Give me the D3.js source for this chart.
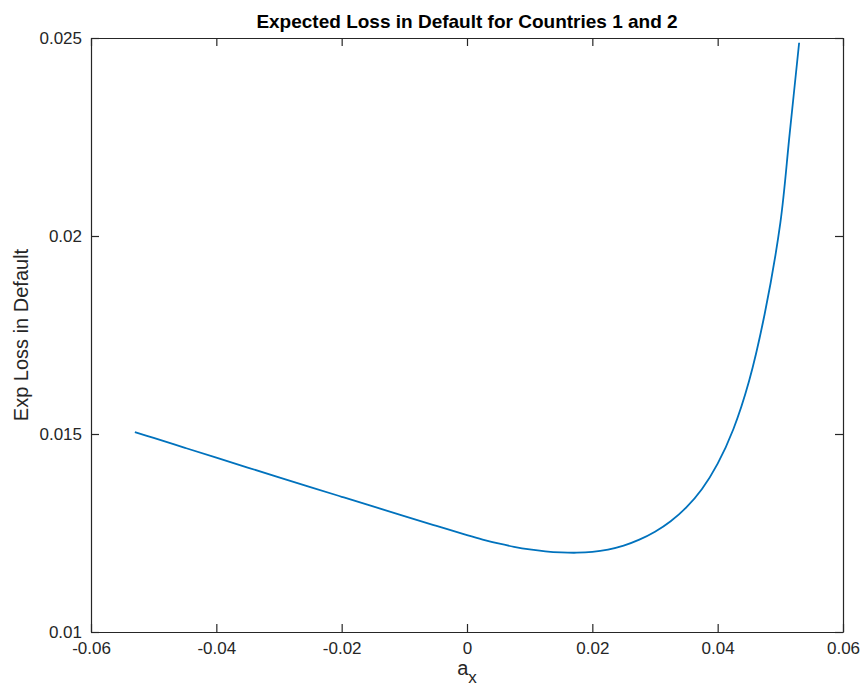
<!DOCTYPE html>
<html>
<head>
<meta charset="utf-8">
<script src="https://cdn.jsdelivr.net/npm/d3@7"></script>
<style>
  html, body { margin: 0; padding: 0; background: #fff; }
  svg { display: block; font-family: "Liberation Sans", Arial, Helvetica, sans-serif; }
</style>
</head>
<body>
<svg id="chart" width="865" height="688"></svg>
<script>
// Expected loss in default as a function of a_x
const axValues = [-0.053, -0.05, -0.045, -0.04, -0.035, -0.03, -0.025, -0.02, -0.015, -0.01, -0.005,
  0, 0.0025, 0.005, 0.0075, 0.01, 0.0125, 0.015, 0.0175, 0.02, 0.0225, 0.025, 0.0275, 0.03,
  0.0325, 0.035, 0.0375, 0.04, 0.0425, 0.045, 0.0475, 0.05, 0.0515, 0.053];
const lossValues = [0.01505, 0.01490, 0.014650, 0.014401, 0.014153, 0.013906, 0.013660, 0.013415,
  0.013171, 0.012928, 0.012686, 0.012445, 0.012333, 0.012235, 0.012152, 0.012086, 0.012038,
  0.012010, 0.012002, 0.012022, 0.012081, 0.012181, 0.012331, 0.012531, 0.012796, 0.013146,
  0.013611, 0.014251, 0.015121, 0.016331, 0.018031, 0.020331, 0.02260, 0.02488];

const xTicks = [-0.06, -0.04, -0.02, 0, 0.02, 0.04, 0.06];
const xTickLabels = ["-0.06", "-0.04", "-0.02", "0", "0.02", "0.04", "0.06"];
const yTicks = [0.01, 0.015, 0.02, 0.025];
const yTickLabels = ["0.01", "0.015", "0.02", "0.025"];

const titleText = "Expected Loss in Default for Countries 1 and 2";
const yLabelText = "Exp Loss in Default";

const margin = { left: 91, top: 38, right: 865 - 843, bottom: 688 - 632 };
const width = 865 - margin.left - margin.right;
const height = 688 - margin.top - margin.bottom;

const axisColor = "#262626";
const tickLen = 8;

const svg = d3.select("#chart");
const g = svg.append("g").attr("transform", `translate(${margin.left},${margin.top})`);

const x = d3.scaleLinear().domain([-0.06, 0.06]).range([0, width]);
const y = d3.scaleLinear().domain([0.01, 0.025]).range([height, 0]);

// Data line
const data = axValues.map((v, i) => ({ x: v, y: lossValues[i] }));
const line = d3.line().x(d => x(d.x)).y(d => y(d.y)).curve(d3.curveCatmullRom.alpha(0.5));
g.append("path")
  .datum(data)
  .attr("fill", "none")
  .attr("stroke", "#0072BD")
  .attr("stroke-width", 1.8)
  .attr("d", line);

// Axes with inward ticks on all four sides
function styleAxis(sel) {
  sel.select(".domain").attr("stroke", axisColor).attr("stroke-width", 1.2);
  sel.selectAll(".tick line").attr("stroke", axisColor).attr("stroke-width", 1.2);
  sel.selectAll(".tick text").attr("fill", axisColor).style("font-size", "17px");
}

const xAxis = d3.axisBottom(x).tickValues(xTicks).tickFormat((d, i) => xTickLabels[i])
  .tickSizeInner(-tickLen).tickSizeOuter(0).tickPadding(10);
g.append("g").attr("transform", `translate(0,${height})`).call(xAxis).call(styleAxis);

const xAxisTop = d3.axisTop(x).tickValues(xTicks).tickFormat("")
  .tickSizeInner(-tickLen).tickSizeOuter(0);
g.append("g").call(xAxisTop).call(styleAxis);

const yAxis = d3.axisLeft(y).tickValues(yTicks).tickFormat((d, i) => yTickLabels[i])
  .tickSizeInner(-tickLen).tickSizeOuter(0).tickPadding(9);
g.append("g").call(yAxis).call(styleAxis);

const yAxisRight = d3.axisRight(y).tickValues(yTicks).tickFormat("")
  .tickSizeInner(-tickLen).tickSizeOuter(0);
g.append("g").attr("transform", `translate(${width},0)`).call(yAxisRight).call(styleAxis);

// Title
svg.append("text")
  .attr("x", margin.left + width / 2)
  .attr("y", 28)
  .attr("text-anchor", "middle")
  .attr("fill", "#000")
  .style("font-size", "19px")
  .style("font-weight", "bold")
  .text(titleText);

// X label: a with subscript x
const xl = svg.append("text")
  .attr("x", margin.left + width / 2)
  .attr("y", 675)
  .attr("text-anchor", "middle")
  .attr("fill", axisColor)
  .style("font-size", "20px");
xl.append("tspan").text("a");
xl.append("tspan").attr("dy", 8).style("font-size", "17px").text("x");

// Y label
svg.append("text")
  .attr("transform", `translate(28,${margin.top + height / 2}) rotate(-90)`)
  .attr("text-anchor", "middle")
  .attr("fill", axisColor)
  .style("font-size", "20px")
  .text(yLabelText);
</script>
</body>
</html>
